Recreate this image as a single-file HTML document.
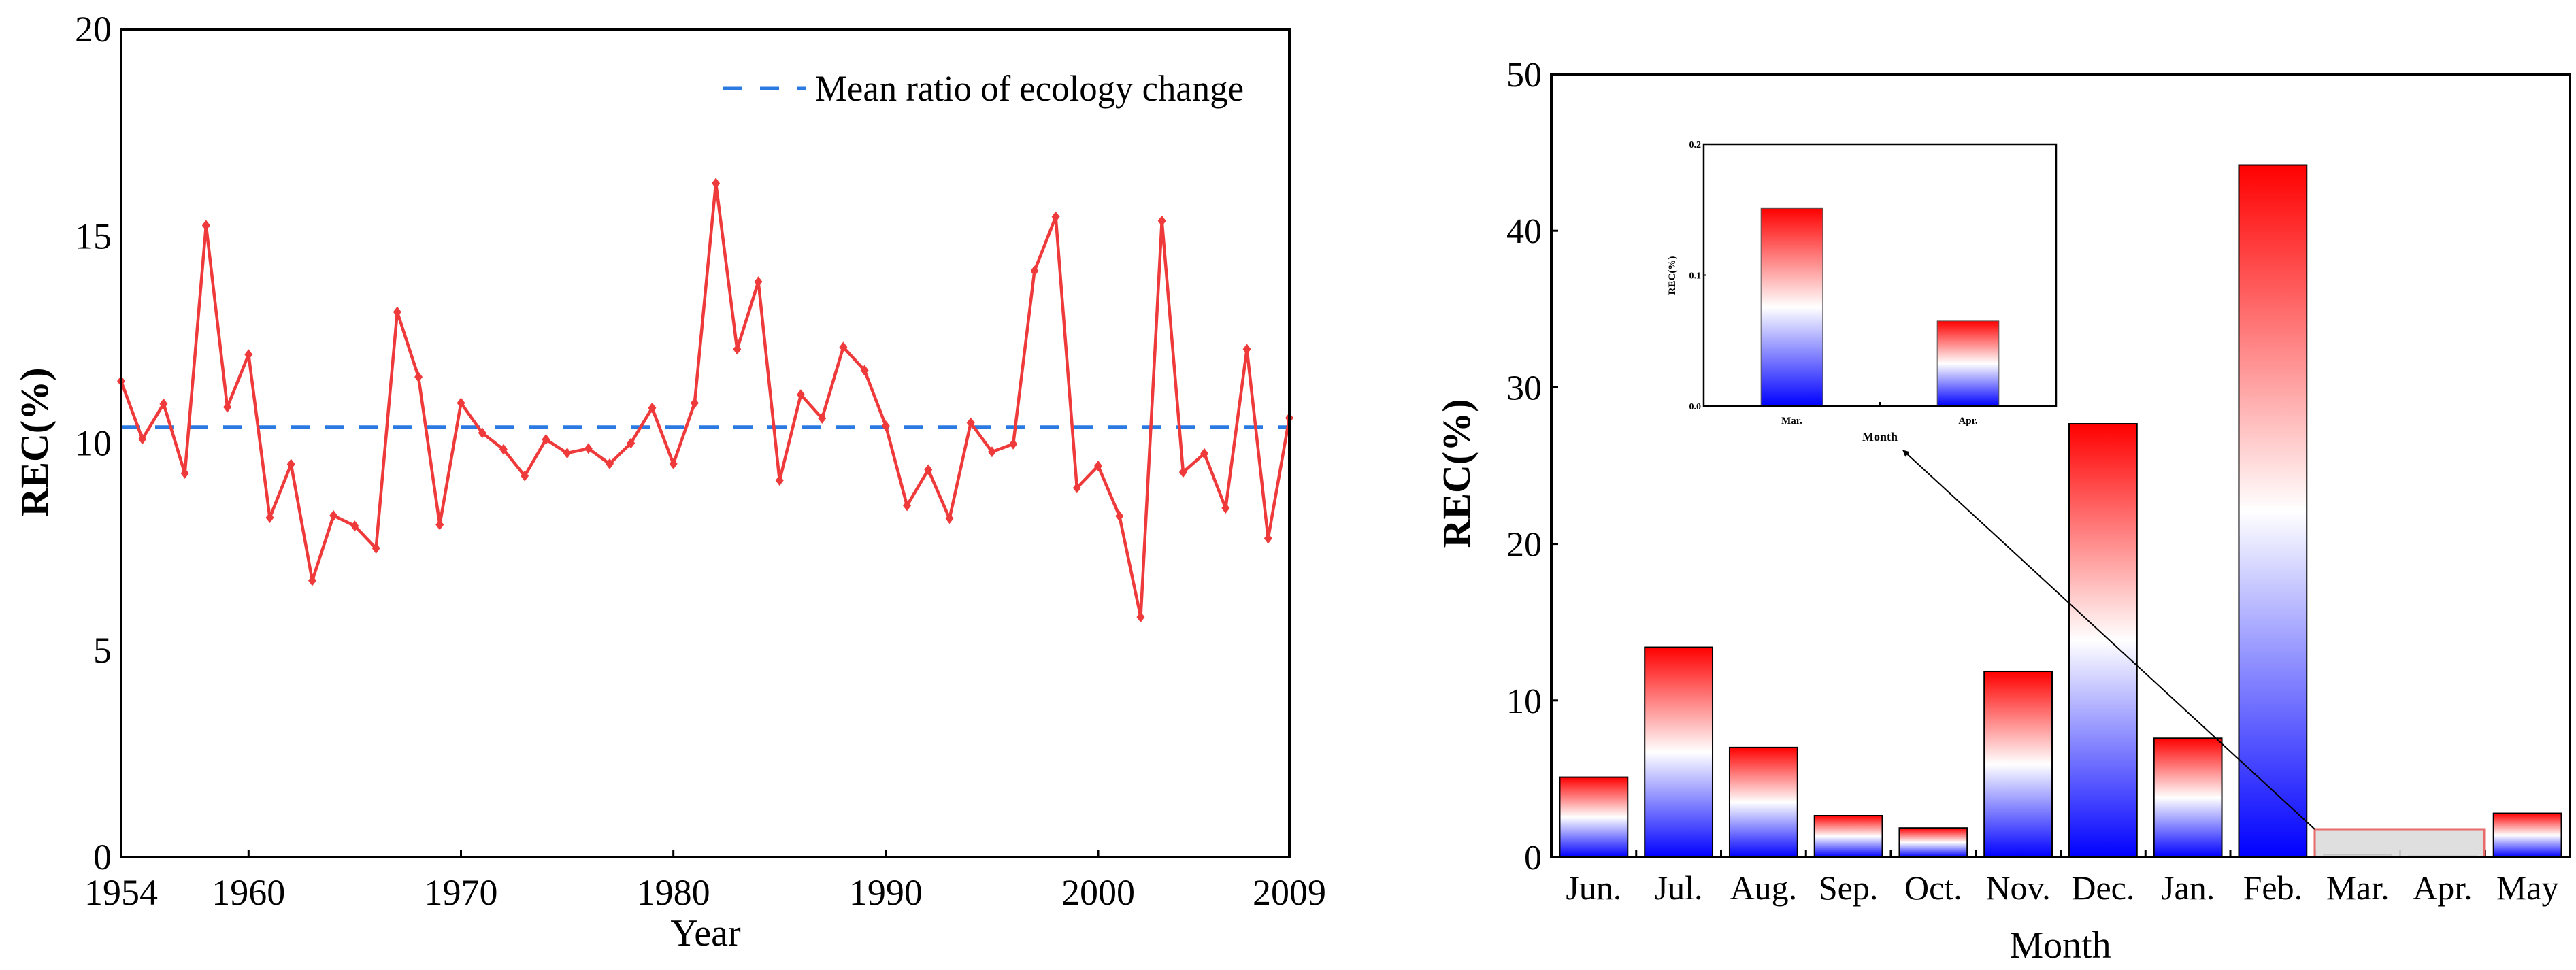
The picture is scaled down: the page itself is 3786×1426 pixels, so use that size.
<!DOCTYPE html>
<html><head><meta charset="utf-8"><style>
html,body{margin:0;padding:0;background:#fff}
svg{display:block;font-family:"Liberation Serif",serif}
</style></head><body>
<svg id="chart" width="3786" height="1426" viewBox="0 0 3786 1426" xmlns="http://www.w3.org/2000/svg">
<defs>
<linearGradient id="bwr" x1="0" y1="1" x2="0" y2="0">
<stop offset="0" stop-color="#0000ff"/><stop offset="0.5" stop-color="#ffffff"/><stop offset="1" stop-color="#ff0000"/>
</linearGradient>
<marker id="arrowhead" markerWidth="10" markerHeight="10" refX="9" refY="5" orient="auto" markerUnits="userSpaceOnUse" viewBox="0 0 10 10">
<path d="M0,0 L10,5 L0,10 Z" fill="#000"/>
</marker>
</defs>
<g id="left"></g>
<g id="right"></g>
</svg>
<script>
const years = [1954,1955,1956,1957,1958,1959,1960,1961,1962,1963,1964,1965,1966,1967,1968,1969,1970,1971,1972,1973,1974,1975,1976,1977,1978,1979,1980,1981,1982,1983,1984,1985,1986,1987,1988,1989,1990,1991,1992,1993,1994,1995,1996,1997,1998,1999,2000,2001,2002,2003,2004,2005,2006,2007,2008,2009];
const recValues = [11.5,10.1,10.95,9.27,15.26,10.87,12.14,8.2,9.49,6.68,8.25,8.0,7.46,13.17,11.6,8.03,10.97,10.25,9.85,9.21,10.09,9.76,9.87,9.5,10.0,10.85,9.5,10.97,16.28,12.27,13.9,9.1,11.17,10.6,12.32,11.76,10.42,8.49,9.36,8.18,10.49,9.79,9.98,14.16,15.47,8.92,9.45,8.24,5.8,15.37,9.3,9.75,8.43,12.27,7.7,10.61];
const meanRatio = [10.39];
const leftYTicks = [0,5,10,15,20];
const leftXTicks = [1954,1960,1970,1980,1990,2000,2009];
const months = ["Jun.","Jul.","Aug.","Sep.","Oct.","Nov.","Dec.","Jan.","Feb.","Mar.","Apr.","May"];
const monthValues = [5.1,13.4,7.0,2.65,1.86,11.86,27.67,7.59,44.2,0.151,0.065,2.8];
const rightYTicks = [0,10,20,30,40,50];
const insetMonths = ["Mar.","Apr."];
const insetValues = [0.151,0.065];
const insetYTicks = ["0.0","0.1","0.2"];

const NS="http://www.w3.org/2000/svg";
function mk(parent,tag,attrs,text){const e=document.createElementNS(NS,tag);for(const k in attrs)e.setAttribute(k,attrs[k]);if(text!==undefined)e.textContent=text;parent.appendChild(e);return e;}

// ---- Left chart ----
const L=document.getElementById('left');


const lx0=178,lx1=1895,ly0=1260,ly1=43;
const lx=v=>lx0+(v-1954)/(2009-1954)*(lx1-lx0);
const ly=v=>ly0-(v/20)*(ly0-ly1);
// mean line
let ml=mk(L,'line',{x1:lx0,x2:lx1,y1:ly(meanRatio[0]),y2:ly(meanRatio[0]),stroke:'#2a7ae2','stroke-width':5,'stroke-dasharray':'28,22'});


// series
let pts=years.map((y,i)=>lx(y)+','+ly(recValues[i])).join(' ');
let pl=mk(L,'polyline',{points:pts,fill:'none',stroke:'#ee3a3a','stroke-width':4.5,'stroke-linejoin':'round'});


years.forEach((y,i)=>{const cx=lx(y),cy=ly(recValues[i]);
 const m=mk(L,'path',{d:`M${cx},${cy-8} L${cx+6},${cy} L${cx},${cy+8} L${cx-6},${cy} Z`,fill:'#ee3a3a'});
 
 
});
// axes box
let lb=mk(L,'rect',{x:lx0,y:ly1,width:lx1-lx0,height:ly0-ly1,fill:'none',stroke:'#000','stroke-width':4});


leftYTicks.forEach(t=>{
 const tl=mk(L,'text',{x:lx0-14,y:ly(t)+18,'text-anchor':'end','font-size':54},String(t));
 
 
});
leftXTicks.forEach(t=>{
 mk(L,'line',{x1:lx(t),x2:lx(t),y1:ly0,y2:ly0-10,stroke:'#000','stroke-width':3});
 const tl=mk(L,'text',{x:lx(t),y:1330,'text-anchor':'middle','font-size':54},String(t));
 
 
});
let yt=mk(L,'text',{x:0,y:0,transform:'translate(70,650) rotate(-90)','text-anchor':'middle','font-size':58,'font-weight':'bold'},'REC(%)');


let xt=mk(L,'text',{x:1037,y:1390,'text-anchor':'middle','font-size':56},'Year');


// legend
let lg=mk(L,'g',{});


mk(lg,'line',{x1:1063,x2:1185,y1:130,y2:130,stroke:'#2a7ae2','stroke-width':5,'stroke-dasharray':'28,26'});
mk(lg,'text',{x:1198,y:148,'font-size':54,textLength:630,lengthAdjust:'spacingAndGlyphs'},'Mean ratio of ecology change');

// ---- Right chart ----
const R=document.getElementById('right');


const rx0=2280,rx1=3777,ry0=1260,ry1=109;
const slot=(rx1-rx0)/months.length;
const rx=i=>rx0+slot*(i+0.5);
const ry=v=>ry0-(v/50)*(ry0-ry1);
months.forEach((m,i)=>{
 const bw=slot*0.8,top=ry(monthValues[i]);
 const b=mk(R,'rect',{x:rx(i)-bw/2,y:top,width:bw,height:ry0-top,fill:'url(#bwr)',stroke:'#000','stroke-width':2});
 
 
 const tl=mk(R,'text',{x:rx(i),y:1322,'text-anchor':'middle','font-size':50},m);
 
 
 if(i>0) mk(R,'line',{x1:rx0+slot*i,x2:rx0+slot*i,y1:ry0,y2:ry0-10,stroke:'#000','stroke-width':3});
});
// highlight rect
let hr=mk(R,'rect',{x:3402,y:1219,width:249,height:41,fill:'#dcdcdc','fill-opacity':0.9,stroke:'#e86a6a','stroke-width':3});


let rb=mk(R,'rect',{x:rx0,y:ry1,width:rx1-rx0,height:ry0-ry1,fill:'none',stroke:'#000','stroke-width':4});


rightYTicks.forEach(t=>{
 mk(R,'line',{x1:rx0,x2:rx0+10,y1:ry(t),y2:ry(t),stroke:'#000','stroke-width':3});
 const tl=mk(R,'text',{x:rx0-14,y:ry(t)+18,'text-anchor':'end','font-size':52},String(t));
 
 
});
let ryt=mk(R,'text',{x:0,y:0,transform:'translate(2160,696) rotate(-90)','text-anchor':'middle','font-size':58,'font-weight':'bold'},'REC(%)');


let rxt=mk(R,'text',{x:3028,y:1408,'text-anchor':'middle','font-size':56},'Month');


// arrow
let ar=mk(R,'line',{x1:3402,y1:1219,x2:2797,y2:662,stroke:'#000','stroke-width':2,'marker-end':'url(#arrowhead)'});


// inset
const I=mk(R,'g',{});


const ix0=2504,ix1=3022,iy0=597,iy1=212;
const islot=(ix1-ix0)/insetMonths.length;
const ix=i=>ix0+islot*(i+0.5);
const iy=v=>iy0-(v/0.2)*(iy0-iy1);
mk(I,'rect',{x:ix0,y:iy1,width:ix1-ix0,height:iy0-iy1,fill:'#fff',stroke:'none'});
insetMonths.forEach((m,i)=>{
 const bw=islot*0.35,top=iy(insetValues[i]);
 const b=mk(I,'rect',{x:ix(i)-bw/2,y:top,width:bw,height:iy0-top,fill:'url(#bwr)',stroke:'#555','stroke-width':1});
 
 
 const tl=mk(I,'text',{x:ix(i),y:623,'text-anchor':'middle','font-size':15,'font-weight':'bold'},m);
 
 
});
mk(I,'line',{x1:ix0+islot,x2:ix0+islot,y1:iy0,y2:iy0-6,stroke:'#000','stroke-width':2});
mk(I,'rect',{x:ix0,y:iy1,width:ix1-ix0,height:iy0-iy1,fill:'none',stroke:'#000','stroke-width':2.5});
insetYTicks.forEach(t=>{
 mk(I,'line',{x1:ix0,x2:ix0+4,y1:iy(+t),y2:iy(+t),stroke:'#000','stroke-width':2});
 const tl=mk(I,'text',{x:ix0-4,y:iy(+t)+5,'text-anchor':'end','font-size':14,'font-weight':'bold'},t);
 
 
});
let it=mk(I,'text',{x:0,y:0,transform:'translate(2462,405) rotate(-90)','text-anchor':'middle','font-size':15,'font-weight':'bold'},'REC(%)');


let ixt=mk(I,'text',{x:2763,y:648,'text-anchor':'middle','font-size':18,'font-weight':'bold'},'Month');


</script>
</body></html>
